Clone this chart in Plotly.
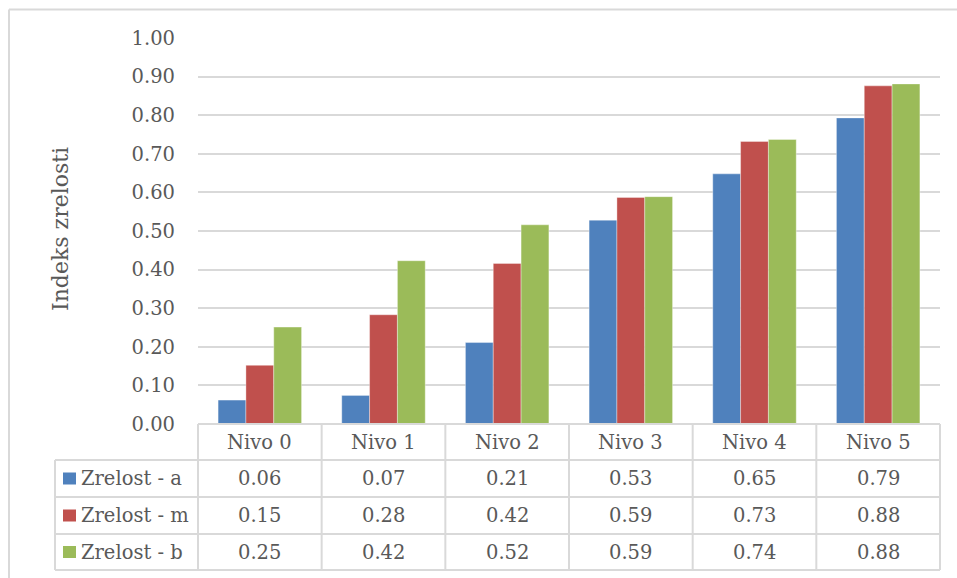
import plotly.graph_objects as go

categories = ["Nivo 0", "Nivo 1", "Nivo 2", "Nivo 3", "Nivo 4", "Nivo 5"]
series_names = ["Zrelost - a", "Zrelost - m", "Zrelost - b"]
zrelost_a = [0.062, 0.074, 0.211, 0.528, 0.648, 0.793]
zrelost_m = [0.152, 0.283, 0.416, 0.587, 0.732, 0.876]
zrelost_b = [0.251, 0.423, 0.516, 0.589, 0.737, 0.881]
colors = ["#4F81BD", "#C0504D", "#9BBB59"]

W, H = 957, 578
L, R, T, B = 198, 17, 38, 154
pw, ph = W - L - R, H - T - B

def px_x(x):  # pixel -> paper x
    return (x - L) / pw

def px_y(y):  # pixel -> paper y
    return (H - B - y) / ph

FONT = "DejaVu Serif"
FS = 19.5
GRAY = "#595959"
LINE = "#d9d9d9"

fig = go.Figure()
for name, vals, c in zip(series_names, [zrelost_a, zrelost_m, zrelost_b], colors):
    fig.add_trace(go.Bar(x=categories, y=vals, name=name,
                         marker=dict(color=c, line=dict(color="rgba(255,255,255,0.6)", width=0.6))))

shapes = []
rows = [424, 460, 497, 534, 570]
# horizontal table lines
shapes.append(dict(type="line", xref="paper", yref="paper", x0=0, x1=1,
                   y0=px_y(rows[0]), y1=px_y(rows[0]), line=dict(color=LINE, width=2)))
for r in rows[1:]:
    shapes.append(dict(type="line", xref="paper", yref="paper", x0=px_x(55), x1=1,
                       y0=px_y(r), y1=px_y(r), line=dict(color=LINE, width=2)))
# vertical table lines
n = len(categories)
for i in range(n + 1):
    shapes.append(dict(type="line", xref="paper", yref="paper", x0=i / n, x1=i / n,
                       y0=px_y(rows[0]), y1=px_y(rows[-1]), line=dict(color=LINE, width=2)))
shapes.append(dict(type="line", xref="paper", yref="paper", x0=px_x(55), x1=px_x(55),
                   y0=px_y(rows[1]), y1=px_y(rows[-1]), line=dict(color=LINE, width=2)))
# outer chart border (top and left visible)
shapes.append(dict(type="line", xref="paper", yref="paper", x0=px_x(9), x1=px_x(W),
                   y0=px_y(9.5), y1=px_y(9.5), line=dict(color=LINE, width=2)))
shapes.append(dict(type="line", xref="paper", yref="paper", x0=px_x(9), x1=px_x(9),
                   y0=px_y(9.5), y1=px_y(H), line=dict(color=LINE, width=2)))

txt = dict(showarrow=False, yanchor="middle", font=dict(family=FONT, size=FS, color=GRAY))

annotations = []
for cat in categories:
    annotations.append(dict(x=cat, xref="x", yref="paper", y=px_y((rows[0] + rows[1]) / 2),
                            text=cat, xanchor="center", **txt))
for k, (name, vals, c) in enumerate(zip(series_names, [zrelost_a, zrelost_m, zrelost_b], colors)):
    yc = (rows[k + 1] + rows[k + 2]) / 2
    shapes.append(dict(type="rect", xref="paper", yref="paper", x0=px_x(63), x1=px_x(76),
                       y0=px_y(yc + 6), y1=px_y(yc - 6), fillcolor=c, line=dict(width=0)))
    annotations.append(dict(x=px_x(79), xref="paper", yref="paper", y=px_y(yc), xanchor="left",
                            text=name, **txt))
    for cat, v in zip(categories, vals):
        annotations.append(dict(x=cat, xref="x", yref="paper", y=px_y(yc), text=f"{v:.2f}",
                                xanchor="center", **txt))
annotations.append(dict(x=px_x(60), xref="paper", yref="paper", y=px_y(229), textangle=-90,
                        text="Indeks zrelosti", showarrow=False, xanchor="center", yanchor="middle",
                        font=dict(family=FONT, size=22, color=GRAY)))

fig.update_layout(
    width=W, height=H, margin=dict(l=L, r=R, t=T, b=B),
    paper_bgcolor="white", plot_bgcolor="white",
    barmode="group", bargap=0.325, bargroupgap=0,
    showlegend=False, shapes=shapes, annotations=annotations,
    font=dict(family=FONT, color=GRAY),
)
fig.update_xaxes(showticklabels=False, showgrid=False, zeroline=False, showline=False, ticks="")
fig.update_yaxes(range=[0, 1], dtick=0.1, tickformat=".2f", showgrid=True, gridcolor=LINE,
                 gridwidth=2, zeroline=False, showline=False, ticks="", ticklabelstandoff=22,
                 tickfont=dict(family=FONT, size=FS, color=GRAY))

# remove the default page margin so the figure sits at the window origin
fig.write_html("out.html", config={"displayModeBar": False},
               post_script="document.body.style.margin='0';")
